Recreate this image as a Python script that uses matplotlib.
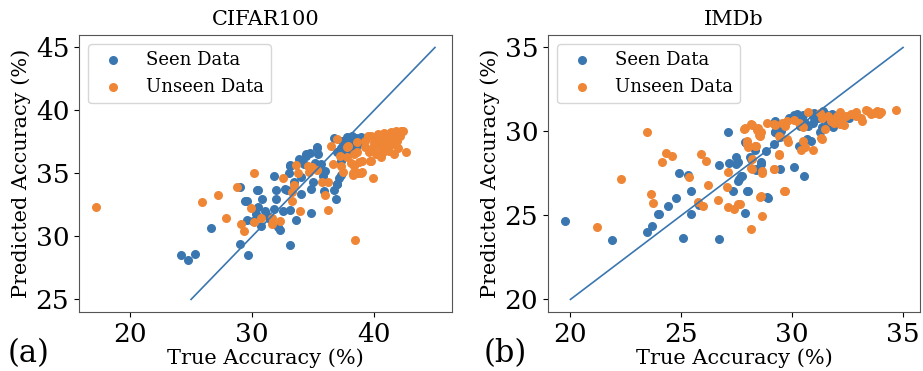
"""Predicted vs. true accuracy for seen / unseen data (CIFAR100, IMDb)."""

import matplotlib

matplotlib.use("Agg")
import matplotlib.pyplot as plt

# ---- CIFAR100 ----
cifar_seen_true = [24.2, 24.75, 25.35, 26.6, 29.0, 29.55, 30.45, 30.45, 29.6, 29.05, 29.7,
                   31.8, 33.0, 33.15, 33.85, 34.45, 34.75, 35.35, 35.4, 35.15, 33.45, 32.9,
                   32.7, 32.0, 30.4, 30.85, 32.0, 34.0, 34.85, 35.0, 35.8, 35.9, 36.7, 36.95,
                   36.85, 34.8, 33.15, 32.5, 29.45, 31.8, 31.1, 30.3, 31.5, 30.75, 32.1, 32.3,
                   33.6, 33.1, 37.3, 37.0, 37.4, 36.7, 37.8, 38.5, 37.3, 38.0, 38.5, 38.8,
                   37.6, 38.1, 38.9, 35.35, 34.4, 34.25, 33.15, 35.65, 37.15, 37.3, 37.0,
                   36.0, 34.0, 30.1, 31.3, 39.2, 38.2]
cifar_seen_pred = [28.5, 28.15, 28.6, 30.65, 33.9, 32.85, 33.7, 32.3, 31.3, 29.4, 28.5,
                   34.8, 35.05, 35.7, 36.15, 36.55, 36.65, 37.05, 36.55, 35.8, 34.3, 33.65,
                   33.8, 33.65, 33.7, 33.0, 32.95, 33.4, 33.8, 34.3, 34.8, 33.6, 33.65, 34.2,
                   33.0, 31.85, 32.1, 32.05, 32.85, 32.2, 32.05, 31.8, 31.4, 30.8, 30.75, 30.5,
                   31.3, 29.35, 36.0, 36.7, 37.6, 37.8, 37.9, 37.1, 37.0, 37.5, 37.8, 37.4,
                   36.9, 36.7, 37.9, 37.1, 36.4, 35.75, 35.6, 35.75, 34.6, 34.85, 34.2,
                   35.2, 34.7, 31.2, 31.6, 37.6, 38.0]

cifar_unseen_true = [17.2, 25.9, 27.2, 27.9, 28.8, 30.15, 29.9, 29.1, 29.3, 30.2,
                     32.55, 33.6, 34.55, 34.9, 35.35, 34.7, 33.75, 33.4, 33.3, 35.75, 36.25,
                     36.2, 33.95, 33.3, 30.7, 31.65, 32.3, 38.45, 37.3, 37.5, 38.1, 38.3, 38.7,
                     37.2, 37.0, 37.9, 36.45, 38.4, 38.8, 37.8, 36.6, 36.0, 39.95, 31.65, 38.25,
                     38.9, 39.7, 42.6, 39.75, 40.3, 40.85, 41.4, 41.8, 42.2, 42.35, 40.0, 40.6,
                     41.1, 41.65, 42.1, 39.9, 40.4, 40.95, 41.5, 39.6, 40.15, 40.7, 41.25, 41.65,
                     39.75, 40.6, 39.3, 39.3, 39.0, 38.6, 38.6, 38.4, 37.8, 39.05, 41.9, 42.0,
                     40.3, 39.5, 41.2]
cifar_unseen_pred = [32.3, 32.7, 33.25, 31.45, 33.95, 35.0, 32.25, 30.95, 30.4, 31.15,
                     34.6, 35.7, 35.6, 35.5, 35.3, 35.1, 35.0, 34.05, 33.5, 34.3, 34.3,
                     32.1, 32.05, 32.85, 31.5, 31.0, 31.2, 29.7, 35.6, 35.1, 35.8, 34.9, 35.0,
                     36.35, 37.75, 37.15, 37.2, 36.55, 35.9, 36.3, 35.75, 33.3, 34.6, 31.5, 35.0,
                     35.0, 36.0, 36.7, 38.0, 38.1, 38.2, 38.3, 38.35, 38.35, 38.4, 37.5, 37.6,
                     37.75, 37.9, 38.0, 37.1, 37.15, 37.2, 37.35, 36.7, 36.55, 36.7, 36.8, 36.55,
                     36.0, 36.3, 37.6, 37.1, 36.0, 37.5, 36.7, 35.6, 37.1, 35.1, 37.6, 37.0,
                     37.9, 38.0, 38.1]

# ---- IMDb ----
imdb_seen_true = [19.75, 21.86, 23.46, 23.68, 23.95, 24.0, 24.38, 24.75, 24.88, 25.31, 25.43,
                  25.43, 25.06, 25.79, 26.68, 26.68, 27.12, 27.14, 27.32, 27.46, 27.54, 27.54,
                  27.73, 27.86, 27.88, 28.1, 28.32, 28.35, 28.6, 28.03, 28.89, 29.21, 29.24,
                  29.47, 29.17, 29.51, 29.59, 29.24, 29.21, 29.36, 29.87, 30.06, 30.21, 30.36,
                  30.44, 30.58, 30.73, 30.95, 30.95, 31.18, 31.48, 31.36, 31.63, 31.78, 32.07,
                  32.57, 31.84, 30.65, 30.83, 30.31, 31.25, 29.44, 30.1, 30.55, 28.13, 28.8,
                  28.58, 28.37, 27.46, 27.58, 27.69, 27.98, 28.87, 27.91, 31.0, 30.5, 31.4]
imdb_seen_pred = [24.64, 23.53, 24.0, 24.38, 25.09, 25.09, 25.55, 26.04, 27.54, 27.42, 26.47,
                  25.09, 23.67, 25.63, 28.0, 23.59, 29.98, 28.12, 26.47, 28.46, 28.17, 27.07,
                  27.37, 25.15, 29.4, 28.46, 28.89, 27.71, 28.17, 26.44, 26.04, 30.63, 29.94,
                  29.64, 29.25, 30.03, 30.33, 30.53, 29.97, 29.97, 30.83, 30.97, 31.03, 30.33,
                  30.89, 30.53, 30.33, 30.53, 30.93, 30.83, 31.03, 30.29, 30.53, 31.03, 30.93,
                  30.83, 30.29, 29.54, 29.44, 29.14, 29.94, 27.79, 27.89, 27.33, 28.36, 28.86,
                  28.05, 27.75, 28.05, 27.16, 27.32, 26.47, 26.08, 29.34, 31.1, 31.0, 31.2]

imdb_unseen_true = [21.19, 22.27, 23.46, 23.64, 23.71, 24.11, 24.3, 24.6, 25.34, 25.76, 25.98,
                    25.9, 26.13, 26.22, 26.65, 27.11, 27.05, 27.12, 27.39, 27.64, 27.88, 28.2,
                    27.98, 28.03, 28.2, 28.35, 28.2, 28.65, 28.54, 28.65, 28.16, 28.43, 28.53,
                    28.87, 29.17, 29.42, 29.17, 29.61, 27.83, 28.13, 28.46, 28.58, 28.5, 29.24,
                    29.54, 29.66, 29.76, 30.06, 30.29, 30.7, 30.5, 31.25, 31.33, 31.63, 31.48,
                    31.75, 32.0, 32.15, 31.9, 32.22, 32.34, 32.42, 32.64, 32.87, 33.1, 33.32,
                    33.54, 33.84, 33.92, 33.13, 34.7, 32.15, 29.42, 29.76, 30.5, 30.58, 30.95,
                    31.36, 29.4, 29.17, 29.69, 27.98, 28.32, 28.65, 28.16, 28.58, 27.54, 29.8,
                    30.4, 31.3, 33.4, 33.7, 32.9, 34.0]
imdb_unseen_pred = [24.3, 27.15, 29.98, 26.3, 25.76, 28.2, 28.71, 28.54, 27.29, 25.79, 25.59,
                    28.66, 28.22, 26.83, 25.94, 27.6, 26.69, 25.49, 25.39, 25.67, 30.2, 30.39,
                    29.44, 29.09, 28.36, 29.11, 27.77, 27.64, 26.12, 24.94, 24.17, 30.08, 29.74,
                    30.53, 30.43, 28.61, 27.77, 26.44, 30.14, 30.47, 30.23, 29.94, 29.78, 30.37,
                    30.53, 30.33, 30.63, 30.69, 30.53, 31.13, 30.29, 31.09, 30.83, 30.93, 30.14,
                    30.63, 30.93, 31.17, 30.53, 30.63, 30.37, 30.93, 31.03, 31.13, 30.83, 31.28,
                    31.03, 31.23, 31.03, 30.63, 31.28, 30.43, 29.74, 29.54, 29.44, 29.05, 28.9,
                    29.58, 28.65, 27.75, 26.47, 29.25, 29.11, 27.55, 27.85, 26.14, 25.67, 29.4,
                    28.9, 29.6, 31.2, 31.1, 30.9, 31.15]

cifar_diag = [25, 45]
imdb_diag = [20, 35]

BLUE = "#3a76af"
ORANGE = "#ef8636"

plt.rcParams["font.family"] = "DejaVu Serif"

fig = plt.figure(figsize=(9.23, 3.71), dpi=100)
ax1 = fig.add_axes([0.0856, 0.159, 0.404, 0.747])
ax2 = fig.add_axes([0.5937, 0.159, 0.4030, 0.747])

panels = [
    (ax1, "CIFAR100", cifar_seen_true, cifar_seen_pred, cifar_unseen_true, cifar_unseen_pred, cifar_diag),
    (ax2, "IMDb", imdb_seen_true, imdb_seen_pred, imdb_unseen_true, imdb_unseen_pred, imdb_diag),
]

for ax, title, sx, sy, ux, uy, diag in panels:
    ax.scatter(sx, sy, s=30, color=BLUE, label="Seen Data", zorder=2)
    ax.scatter(ux, uy, s=30, color=ORANGE, label="Unseen Data", zorder=2)
    ax.plot(diag, diag, color=BLUE, linewidth=1.2, zorder=3)
    ax.set_title(title, fontsize=15, pad=7)
    ax.set_xlabel("True Accuracy (%)", fontsize=15, labelpad=1)
    ax.set_ylabel("Predicted Accuracy (%)", fontsize=15, labelpad=3)
    ax.tick_params(labelsize=19)
    ax.legend(loc="upper left", fontsize=13)
    for sp in ax.spines.values():
        sp.set_color("#555555")

fig.text(0.008, 0.025, "(a)", fontsize=22)
fig.text(0.524, 0.025, "(b)", fontsize=22)

fig.savefig("out.png", dpi=100)
